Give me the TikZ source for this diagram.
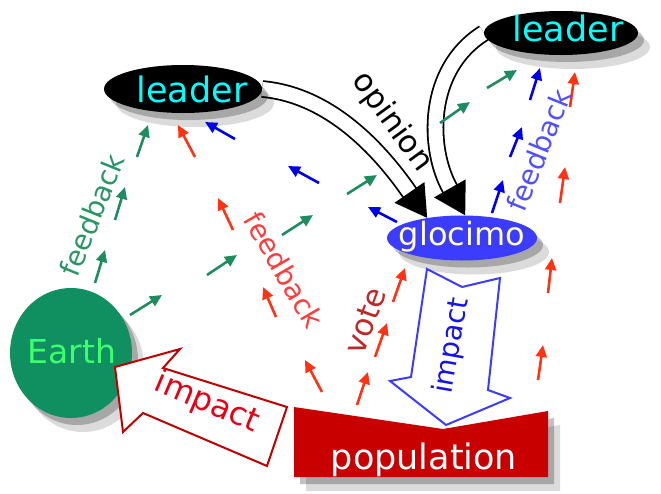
\documentclass[tikz,border=0pt]{standalone}
\usepackage{fontspec}
\setmainfont{DejaVu Sans}
\usetikzlibrary{arrows.meta,shapes.geometric,shadows}
\pgfdeclarelayer{background}
\pgfsetlayers{background,main}

\definecolor{earthgreen}{RGB}{16,144,96}
\definecolor{earthtext}{RGB}{60,255,110}
\definecolor{leadcyan}{RGB}{0,255,255}
\definecolor{glocblue}{RGB}{60,60,255}
\definecolor{gloctext}{RGB}{255,255,200}
\definecolor{popred}{RGB}{200,0,0}
\definecolor{impred}{RGB}{190,0,0}
\definecolor{imptext}{RGB}{230,0,20}
\definecolor{impblue}{RGB}{60,60,255}
\definecolor{imptextblue}{RGB}{20,20,230}
\definecolor{arrgreen}{RGB}{30,140,95}
\definecolor{arrred}{RGB}{255,50,20}
\definecolor{arrblue}{RGB}{0,0,230}
\definecolor{fbgreen}{RGB}{40,150,100}
\definecolor{fbred}{RGB}{255,60,60}
\definecolor{fbblue}{RGB}{80,80,255}
\definecolor{votered}{RGB}{190,40,40}

\begin{document}
\begin{tikzpicture}[x=1pt, y=-1pt,
  big/.style={font=\fontsize{35}{35}\selectfont},
  mid/.style={font=\fontsize{31}{31}\selectfont},
  fbtext/.style={font=\fontsize{28}{28}\selectfont, inner sep=0pt},
  shadowy/.style={drop shadow={shadow xshift=12pt, shadow yshift=-14pt, opacity=.14, fill=black},
    drop shadow={shadow xshift=6pt, shadow yshift=-7pt, opacity=.24, fill=black}},
  blob/.style={ellipse, inner sep=0pt, shadowy},
  sarr/.style={-{Triangle[length=12pt,width=11pt]}, line width=2.6pt},
  garr/.style={sarr, draw=arrgreen},
  rarr/.style={sarr, draw=arrred},
  barr/.style={sarr, draw=arrblue},
  opin/.style={line width=1.8pt, double=white, double distance=14pt,
    -{Triangle[length=31pt,width=36pt]}},
  blockarr/.style={fill=white, line width=2pt, line join=miter}
]
\useasboundingbox (0,0) rectangle (661,493);

% main nodes
\node[blob, fill=black, minimum width=158pt, minimum height=48pt,
  label={[big, text=leadcyan, xshift=9pt]center:leader}] (leaderA) at (183,89) {};
\node[blob, fill=black, minimum width=154pt, minimum height=44pt,
  label={[big, text=leadcyan, xshift=7pt, yshift=5pt]center:leader}] (leaderB) at (561,33) {};
\node[blob, fill=glocblue, minimum width=150pt, minimum height=45pt,
  label={[font=\fontsize{32}{32}\selectfont, text=gloctext, yshift=1pt]center:glocimo}] (glocimo) at (462,238) {};
\node[blob, fill=earthgreen, minimum width=122pt, minimum height=130pt,
  label={[font=\fontsize{33}{33}\selectfont, text=earthtext, xshift=1pt, yshift=2pt]center:Earth}] (earth) at (71,353) {};

\fill[popred, shadowy] (294,407) -- (443,429) -- (548,411) -- (548,477) -- (294,477) -- cycle;
\node[big, text=white] (population) at (424,460) {population};

% impact arrows
\draw[blockarr, draw=impred] (115,367) -- (180,349) -- (163,368) -- (287,407)
  -- (267,466) -- (143,413) -- (123,432) -- cycle;
\draw[blockarr, draw=impblue] (427,269) -- (462,287) -- (500,278) -- (488,390)
  -- (510,398) -- (446,425) -- (390,381) -- (411,377) -- cycle;

% opinion
\begin{pgfonlayer}{background}
\draw[opin] (leaderA.east) .. controls (330,95) and (380,150) .. (glocimo.150);
\draw[opin] (leaderB.west) .. controls (425,70) and (428,150) .. (glocimo.82);
\end{pgfonlayer}

% small arrows
\foreach \xa/\ya/\xb/\yb in {137/157/148/125, 115/220/125/187, 95/283/105/250,
  130/315/162/295, 207/275/237/255, 282/235/313/215, 347/194/377/175,
  440/123/470/102, 487/88/517/70}
  \draw[garr] (\xa,\ya) -- (\xb,\yb);
\foreach \xa/\ya/\xb/\yb in {195/157/178/125, 233/230/218/198, 276/317/263/287,
  322/392/305/360, 357/405/368/372, 375/357/387/323, 393/302/405/268,
  548/293/552/258, 538/380/543/345, 560/203/565/167, 570/107/575/72}
  \draw[rarr] (\xa,\ya) -- (\xb,\yb);
\foreach \xa/\ya/\xb/\yb in {235/139/205/122, 319/183/288/166, 397/222/368/207,
  492/213/503/180, 510/157/522/127, 530/100/540/68}
  \draw[barr] (\xa,\ya) -- (\xb,\yb);

% labels
\node[mid, rotate=-54] (opinion) at (392,122) {opinion};
\node[fbtext, text=fbgreen, rotate=68] (fbA) at (92,215) {feedback};
\node[fbtext, text=fbred, rotate=-60] (fbB) at (284,270) {feedback};
\node[fbtext, text=fbblue, rotate=68] (fbC) at (539,150) {feedback};
\node[mid, text=votered, rotate=70] (vote) at (365,321) {vote};
\node[font=\fontsize{32}{32}\selectfont, text=imptext, rotate=-23] (impA) at (207,403) {impact};
\node[font=\fontsize{28}{28}\selectfont, text=imptextblue, rotate=80] (impB) at (452,346) {impact};
\end{tikzpicture}
\end{document}
